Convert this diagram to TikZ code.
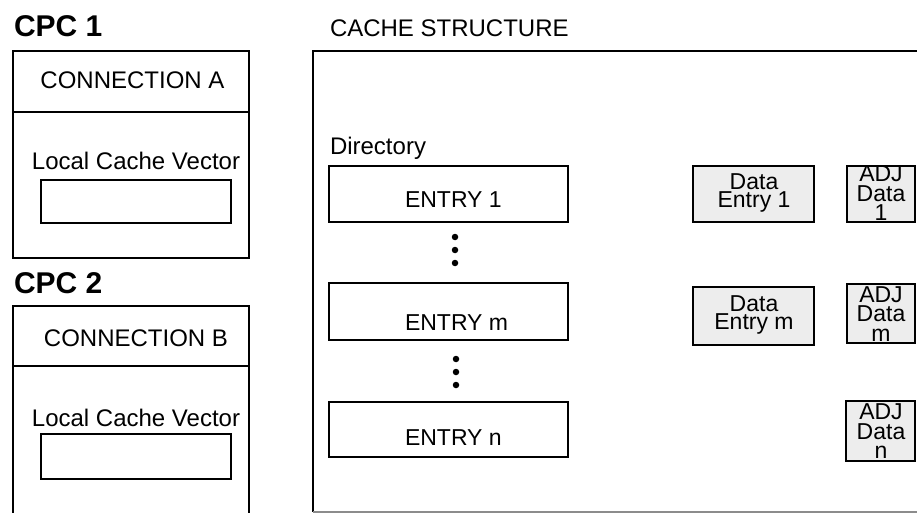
\documentclass[tikz,border=0pt]{standalone}
\usepackage{fontspec}
\setmainfont{Liberation Sans}
\begin{document}
\begin{tikzpicture}[x=1pt,y=-1pt,
  box/.style={draw=black,line width=2pt},
  grayfill/.style={box,fill=black!7},
  txt/.style={inner sep=0pt,outer sep=0pt,font=\fontsize{24}{24}\selectfont},
  txts/.style={inner sep=0pt,outer sep=0pt,font=\fontsize{23}{23}\selectfont},
  twoline/.style={inner sep=0pt,outer sep=0pt,align=center,font=\fontsize{23}{18}\selectfont},
  adjtxt/.style={inner sep=0pt,outer sep=0pt,align=center,font=\fontsize{23}{19.5}\selectfont},
  big/.style={inner sep=0pt,outer sep=0pt,font=\bfseries\fontsize{30}{30}\selectfont},
  dot/.style={circle,fill=black,inner sep=0pt,minimum size=6.5pt}]
\useasboundingbox[fill=white] (0,0) rectangle (917,513);
% ---------- CPC 1 ----------
\node[big,anchor=base west] (cpc1) at (14,37) {CPC 1};
\draw[box] (13,51) rectangle (249,258);
\draw[box] (13,112) -- (249,112);
\node[txt,anchor=base] (conA) at (132.5,89) {CONNECTION A};
\node[txt,anchor=base] (lcv1) at (136,170) {Local Cache Vector};
\draw[box] (41,180) rectangle (231,223);
% ---------- CPC 2 ----------
\node[big,anchor=base west] (cpc2) at (14,293) {CPC 2};
\draw[box] (13,514) -- (13,306) -- (249,306) -- (249,514);
\draw[box] (13,366) -- (249,366);
\node[txt,anchor=base] (conB) at (136,346) {CONNECTION B};
\node[txt,anchor=base] (lcv2) at (136,426) {Local Cache Vector};
\draw[box] (41,434) rectangle (231,479);
% ---------- CACHE STRUCTURE ----------
\node[txt,anchor=base west] (cs) at (330,37) {CACHE STRUCTURE};
\draw[box] (918,51) -- (313,51) -- (313,512);
\draw[draw=black!45,line width=1.5pt] (313,512) -- (918,512);
\node[txt,anchor=base west] (dir) at (330,154) {Directory};
% entries
\draw[box] (329,166) rectangle (568,222);
\node[txts,anchor=base west] (e1) at (405,207) {ENTRY 1};
\draw[box] (329,283) rectangle (568,340);
\node[txts,anchor=base west] (em) at (405,330) {ENTRY m};
\draw[box] (329,402) rectangle (568,457);
\node[txts,anchor=base west] (en) at (405,445) {ENTRY n};
% dots
\node[dot] (d1) at (455,237) {};
\node[dot] (d2) at (455,250) {};
\node[dot] (d3) at (455,263) {};
\node[dot] (d4) at (456,359) {};
\node[dot] (d5) at (456,372) {};
\node[dot] (d6) at (456,385) {};
% data entries
\draw[grayfill] (693,166) rectangle (814,222);
\node[twoline,anchor=north] (de1) at (754,173.5) {Data\\Entry 1};
\draw[grayfill] (693,287) rectangle (814,345);
\node[twoline,anchor=north] (dem) at (754,295.5) {Data\\Entry m};
% ADJ data boxes
\fill[black!7] (847,166) rectangle (915,222);
\begin{scope}
\clip (847,166) rectangle (915,221);
\node[adjtxt,anchor=north] (a1) at (881,166) {ADJ\\Data\\1};
\end{scope}
\draw[box] (847,166) rectangle (915,222);
\fill[black!7] (847,284) rectangle (915,343);
\begin{scope}
\clip (847,284) rectangle (915,342);
\node[adjtxt,anchor=north] (am) at (881,286.5) {ADJ\\Data\\m};
\end{scope}
\draw[box] (847,284) rectangle (915,343);
\fill[black!7] (846,401) rectangle (915,461);
\begin{scope}
\clip (846,401) rectangle (915,460);
\node[adjtxt,anchor=north] (an) at (881,404) {ADJ\\Data\\n};
\end{scope}
\draw[box] (846,401) rectangle (915,461);
\end{tikzpicture}
\end{document}
